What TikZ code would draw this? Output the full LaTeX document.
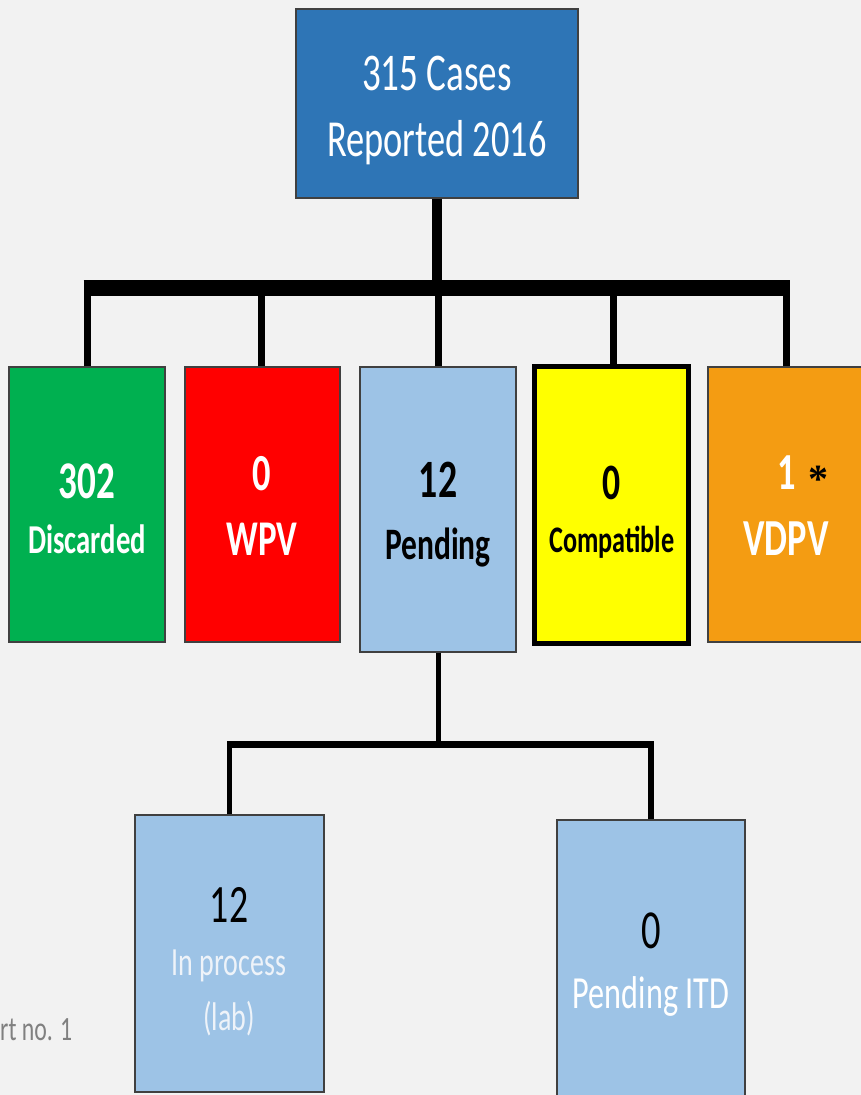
\documentclass[tikz,border=0pt]{standalone}
\usepackage{fontspec}
\setmainfont{Carlito}[FakeStretch=0.7]
\newfontfamily\astfont{Liberation Serif}
\definecolor{bg}{HTML}{F2F2F2}
\definecolor{topblue}{HTML}{2E75B6}
\definecolor{dgreen}{HTML}{00B050}
\definecolor{dred}{HTML}{FF0000}
\definecolor{lblue}{HTML}{9DC3E6}
\definecolor{dyellow}{HTML}{FFFF00}
\definecolor{dorange}{HTML}{F49C12}
\definecolor{pale}{HTML}{EEF3F9}
\definecolor{note}{HTML}{808080}
\newcommand{\fs}[1]{\fontsize{#1}{#1}\selectfont}
\tikzset{
  box/.style={draw=black!75, line width=1.2pt, inner sep=0pt, rectangle},
  txt/.style={anchor=base, inner sep=0pt},
  bar/.style={line width=16pt, line cap=butt},
  drop/.style={line width=7pt},
  sbar/.style={line width=7pt},
  sdrop/.style={line width=5.5pt}
}
\begin{document}
\begin{tikzpicture}[x=1pt,y=-1pt]
\fill[bg] (0,0) rectangle (861,1095);
\useasboundingbox (0,0) rectangle (861,1095);

% boxes
\node[box, fill=topblue, minimum width=282pt, minimum height=189pt] (top) at (437,103.5) {};
\node[box, fill=dgreen, minimum width=156pt, minimum height=275pt] (disc) at (87,504.5) {};
\node[box, fill=dred, minimum width=155pt, minimum height=275pt] (wpv) at (262.5,504.5) {};
\node[box, fill=lblue, minimum width=156pt, minimum height=285pt] (pend) at (438,509.5) {};
\node[box, fill=dyellow, draw=black, line width=5pt, minimum width=154pt, minimum height=277pt] (comp) at (611.5,505) {};
\node[box, fill=dorange, minimum width=156pt, minimum height=275pt] (vdpv) at (786,504.5) {};
\node[box, fill=lblue, minimum width=189pt, minimum height=277pt] (inproc) at (229.5,953.5) {};
\node[box, fill=lblue, minimum width=188pt, minimum height=280pt] (itd) at (651,960) {};

% connectors
\coordinate (barL) at (83.5,288);
\coordinate (barR) at (790,288);
\draw[line width=10pt] (top.south) -- (top.south |- barL);
\draw[bar] (barL) -- (barR);
\draw[drop] (disc.north) -- ([yshift=8pt]disc.north |- barL);
\draw[drop] ([xshift=-1.5pt]wpv.north) -- ([xshift=-1.5pt,yshift=8pt]wpv.north |- barL);
\draw[drop] (pend.north) -- ([yshift=8pt]pend.north |- barL);
\draw[drop] ([xshift=1.5pt]comp.north) -- ([xshift=1.5pt,yshift=8pt]comp.north |- barL);
\draw[drop] (vdpv.north) -- ([yshift=8pt]vdpv.north |- barL);

\coordinate (sbarL) at (227,744);
\coordinate (sbarR) at (654,744);
\draw[line width=5pt] (pend.south) -- (pend.south |- sbarL);
\draw[sbar] (sbarL) -- (sbarR);
\draw[sdrop] (inproc.north) -- ([yshift=3pt]inproc.north |- sbarL);
\draw[sdrop] (itd.north) -- ([yshift=3pt]itd.north |- sbarL);

% texts
\node[txt, text=white, font=\fs{53}] (t1) at (437,90) {315 Cases};
\node[txt, text=white, font=\fs{52}] (t2) at (437,156) {Reported 2016};

\node[txt, text=white, font=\bfseries\fs{53}] (d1) at (87,498) {302};
\node[txt, text=white, font=\bfseries\fs{41}] (d2) at (87,553) {Discarded};

\node[txt, text=white, font=\bfseries\fs{52}] (w1) at (262,490) {0};
\node[txt, text=white, font=\bfseries\fs{50}] (w2) at (262,555) {WPV};

\node[txt, text=black, font=\bfseries\fs{54}] (p1) at (438,497) {12};
\node[txt, text=black, font=\bfseries\fs{45}] (p2) at (438,559) {Pending};

\node[txt, text=black, font=\bfseries\fs{51}] (c1) at (612,499) {0};
\node[txt, text=black, font=\bfseries\fs{37.5}] (c2) at (612,552) {Compatible};

\node[txt, text=white, font=\bfseries\fs{52}] (v1) at (787,489) {1};
\node[inner sep=0pt, text=black, font=\astfont\bfseries\fs{40}] (ast) at (818,479) {*};
\node[txt, text=white, font=\bfseries\fs{52}] (v2) at (786,555) {VDPV};

\node[txt, text=black, font=\fs{54}] (i1) at (229,922) {12};
\node[txt, text=pale, font=\fs{40}] (i2) at (229,975) {In process};
\node[txt, text=pale, font=\fs{40}] (i3) at (229,1030) {(lab)};

\node[txt, text=black, font=\fs{55}] (e1) at (651,948) {0};
\node[txt, text=white, font=\fs{46}] (e2) at (651,1008) {Pending ITD};

\node[anchor=base west, inner sep=0pt, text=note, font=\fs{34}] (chart) at (0,1040) {rt no. 1};
\end{tikzpicture}
\end{document}
